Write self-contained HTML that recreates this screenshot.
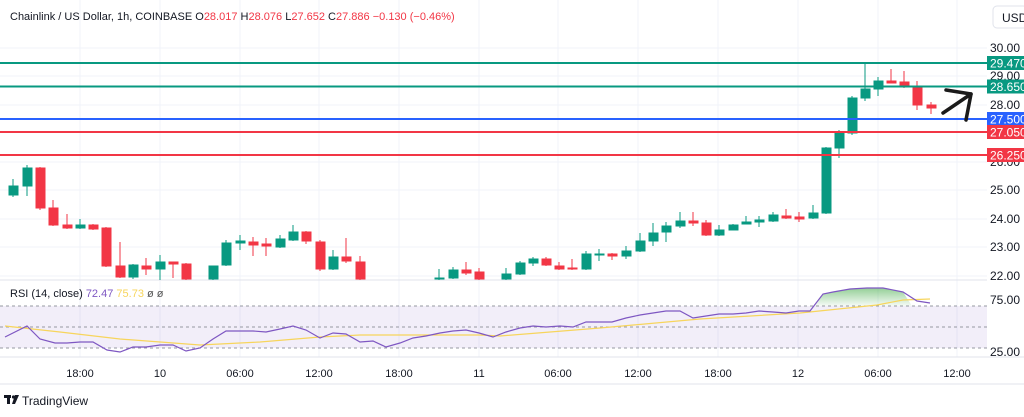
<!DOCTYPE html>
<html><head><meta charset="utf-8"><style>
body{margin:0;background:#fff;width:1024px;height:412px;overflow:hidden;font-family:"Liberation Sans","DejaVu Sans",sans-serif}
</style></head><body>
<svg width="1024" height="412" xmlns="http://www.w3.org/2000/svg" font-family="Liberation Sans, DejaVu Sans, sans-serif">
<rect width="1024" height="412" fill="#fff"/>
<g stroke="#f0f3fa" stroke-width="1">
<line x1="80" y1="0" x2="80" y2="357"/><line x1="160" y1="0" x2="160" y2="357"/><line x1="240" y1="0" x2="240" y2="357"/><line x1="319" y1="0" x2="319" y2="357"/><line x1="399" y1="0" x2="399" y2="357"/><line x1="479" y1="0" x2="479" y2="357"/><line x1="558" y1="0" x2="558" y2="357"/><line x1="638" y1="0" x2="638" y2="357"/><line x1="718" y1="0" x2="718" y2="357"/><line x1="798" y1="0" x2="798" y2="357"/><line x1="878" y1="0" x2="878" y2="357"/><line x1="957" y1="0" x2="957" y2="357"/>
<line x1="0" y1="48" x2="987" y2="48"/><line x1="0" y1="76" x2="987" y2="76"/><line x1="0" y1="105" x2="987" y2="105"/><line x1="0" y1="162" x2="987" y2="162"/><line x1="0" y1="190" x2="987" y2="190"/><line x1="0" y1="219" x2="987" y2="219"/><line x1="0" y1="247" x2="987" y2="247"/><line x1="0" y1="276" x2="987" y2="276"/>
</g>
<line x1="0" y1="280" x2="987" y2="280" stroke="#e0e3eb"/>
<line x1="0" y1="357" x2="1024" y2="357" stroke="#e0e3eb"/>
<line x1="0" y1="384" x2="1024" y2="384" stroke="#e0e3eb"/>
<text x="10" y="20" font-size="11" fill="#131722">Chainlink / US Dollar, 1h, COINBASE <tspan fill="#131722">O</tspan><tspan fill="#f23645">28.017</tspan> <tspan fill="#131722">H</tspan><tspan fill="#f23645">28.076</tspan> <tspan fill="#131722">L</tspan><tspan fill="#f23645">27.652</tspan> <tspan fill="#131722">C</tspan><tspan fill="#f23645">27.886</tspan> <tspan fill="#f23645">−0.130 (−0.46%)</tspan></text>
<rect x="993" y="6" width="34" height="22" rx="4" fill="#fff" stroke="#e0e3eb"/>
<text x="1002" y="22" font-size="12" fill="#131722">USD</text>
<clipPath id="c"><rect x="0" y="30" width="987" height="250"/></clipPath>
<g clip-path="url(#c)">
<g stroke-width="1">
<g fill="#089981" stroke="#089981">
<line x1="13" y1="179" x2="13" y2="197"/><rect x="9" y="186" width="9" height="9"/>
<line x1="27" y1="165" x2="27" y2="196"/><rect x="23" y="168" width="9" height="18"/>
<line x1="80" y1="219" x2="80" y2="229"/><rect x="76" y="225" width="9" height="3"/>
<line x1="133" y1="264" x2="133" y2="279"/><rect x="129" y="265" width="9" height="12"/>
<line x1="160" y1="255" x2="160" y2="280"/><rect x="156" y="262" width="9" height="7"/>
<line x1="213" y1="266" x2="213" y2="280"/><rect x="209" y="266" width="9" height="13"/>
<line x1="226" y1="240" x2="226" y2="266"/><rect x="222" y="243" width="9" height="22"/>
<line x1="240" y1="235" x2="240" y2="250"/><rect x="236" y="241" width="9" height="2"/>
<line x1="280" y1="235" x2="280" y2="248"/><rect x="276" y="239" width="9" height="8"/>
<line x1="293" y1="225" x2="293" y2="241"/><rect x="289" y="232" width="9" height="8"/>
<line x1="333" y1="250" x2="333" y2="270"/><rect x="329" y="257" width="9" height="12"/>
<line x1="439" y1="269" x2="439" y2="280"/><rect x="435" y="278" width="9" height="1"/>
<line x1="453" y1="267" x2="453" y2="279"/><rect x="449" y="270" width="9" height="8"/>
<line x1="506" y1="268" x2="506" y2="280"/><rect x="502" y="274" width="9" height="5"/>
<line x1="520" y1="261" x2="520" y2="275"/><rect x="516" y="263" width="9" height="11"/>
<line x1="533" y1="257" x2="533" y2="266"/><rect x="529" y="259" width="9" height="4"/>
<line x1="586" y1="251" x2="586" y2="270"/><rect x="582" y="254" width="9" height="15"/>
<line x1="599" y1="249" x2="599" y2="261"/><rect x="595" y="254" width="9" height="1"/>
<line x1="626" y1="246" x2="626" y2="259"/><rect x="622" y="251" width="9" height="5"/>
<line x1="640" y1="233" x2="640" y2="252"/><rect x="636" y="241" width="9" height="10"/>
<line x1="653" y1="223" x2="653" y2="246"/><rect x="649" y="233" width="9" height="8"/>
<line x1="666" y1="222" x2="666" y2="242"/><rect x="662" y="226" width="9" height="6"/>
<line x1="680" y1="212" x2="680" y2="228"/><rect x="676" y="221" width="9" height="5"/>
<line x1="719" y1="225" x2="719" y2="236"/><rect x="715" y="230" width="9" height="5"/>
<line x1="733" y1="224" x2="733" y2="230"/><rect x="729" y="225" width="9" height="5"/>
<line x1="746" y1="216" x2="746" y2="224"/><rect x="742" y="222" width="9" height="2"/>
<line x1="759" y1="216" x2="759" y2="227"/><rect x="755" y="220" width="9" height="2"/>
<line x1="773" y1="212" x2="773" y2="222"/><rect x="769" y="215" width="9" height="6"/>
<line x1="813" y1="205" x2="813" y2="219"/><rect x="809" y="213" width="9" height="5"/>
<line x1="826" y1="147" x2="826" y2="214"/><rect x="822" y="148" width="9" height="65"/>
<line x1="839" y1="130" x2="839" y2="158"/><rect x="835" y="133" width="9" height="15"/>
<line x1="852" y1="96" x2="852" y2="135"/><rect x="848" y="98" width="9" height="35"/>
<line x1="865" y1="64" x2="865" y2="101"/><rect x="861" y="89" width="9" height="9"/>
<line x1="878" y1="77" x2="878" y2="96"/><rect x="874" y="81" width="9" height="8"/>
</g>
<g fill="#f23645" stroke="#f23645">
<line x1="40" y1="167" x2="40" y2="210"/><rect x="36" y="168" width="9" height="40"/>
<line x1="53" y1="200" x2="53" y2="226"/><rect x="49" y="208" width="9" height="17"/>
<line x1="67" y1="214" x2="67" y2="229"/><rect x="63" y="225" width="9" height="3"/>
<line x1="93" y1="224" x2="93" y2="230"/><rect x="89" y="225" width="9" height="4"/>
<line x1="106" y1="227" x2="106" y2="267"/><rect x="102" y="228" width="9" height="38"/>
<line x1="120" y1="242" x2="120" y2="278"/><rect x="116" y="266" width="9" height="11"/>
<line x1="146" y1="258" x2="146" y2="275"/><rect x="142" y="266" width="9" height="3"/>
<line x1="173" y1="262" x2="173" y2="278"/><rect x="169" y="262" width="9" height="2"/>
<line x1="186" y1="263" x2="186" y2="280"/><rect x="182" y="264" width="9" height="15"/>
<line x1="253" y1="237" x2="253" y2="256"/><rect x="249" y="242" width="9" height="3"/>
<line x1="266" y1="238" x2="266" y2="256"/><rect x="262" y="244" width="9" height="2"/>
<line x1="306" y1="231" x2="306" y2="244"/><rect x="302" y="232" width="9" height="9"/>
<line x1="320" y1="240" x2="320" y2="271"/><rect x="316" y="242" width="9" height="27"/>
<line x1="346" y1="238" x2="346" y2="263"/><rect x="342" y="257" width="9" height="4"/>
<line x1="360" y1="256" x2="360" y2="280"/><rect x="356" y="262" width="9" height="17"/>
<line x1="466" y1="262" x2="466" y2="275"/><rect x="462" y="270" width="9" height="3"/>
<line x1="479" y1="268" x2="479" y2="280"/><rect x="475" y="272" width="9" height="7"/>
<line x1="546" y1="257" x2="546" y2="266"/><rect x="542" y="259" width="9" height="6"/>
<line x1="559" y1="262" x2="559" y2="270"/><rect x="555" y="266" width="9" height="3"/>
<line x1="572" y1="259" x2="572" y2="270"/><rect x="568" y="268" width="9" height="1"/>
<line x1="612" y1="253" x2="612" y2="260"/><rect x="608" y="254" width="9" height="2"/>
<line x1="693" y1="212" x2="693" y2="226"/><rect x="689" y="221" width="9" height="2"/>
<line x1="706" y1="220" x2="706" y2="236"/><rect x="702" y="223" width="9" height="12"/>
<line x1="786" y1="209" x2="786" y2="219"/><rect x="782" y="216" width="9" height="2"/>
<line x1="799" y1="212" x2="799" y2="222"/><rect x="795" y="217" width="9" height="2"/>
<line x1="891" y1="69" x2="891" y2="83"/><rect x="887" y="81" width="9" height="2"/>
<line x1="904" y1="71" x2="904" y2="88"/><rect x="900" y="82" width="9" height="5"/>
<line x1="917" y1="81" x2="917" y2="110"/><rect x="913" y="88" width="9" height="17"/>
<line x1="931" y1="102" x2="931" y2="114"/><rect x="927" y="105" width="9" height="3"/>
</g>
</g>
</g>
<line x1="0" y1="63" x2="987" y2="63" stroke="#089981" stroke-width="2"/>
<line x1="0" y1="86.5" x2="987" y2="86.5" stroke="#089981" stroke-width="2"/>
<line x1="0" y1="119" x2="987" y2="119" stroke="#2962ff" stroke-width="2"/>
<line x1="0" y1="132" x2="987" y2="132" stroke="#f23645" stroke-width="2"/>
<line x1="0" y1="155" x2="987" y2="155" stroke="#f23645" stroke-width="2"/>
<g stroke="#1a1a1a" stroke-width="3.5" fill="none" stroke-linecap="round" stroke-linejoin="round">
<line x1="943" y1="113" x2="971" y2="94"/>
<polyline points="946,90 971,94 966,120"/>
</g>
<g font-size="12" fill="#131722">
<text x="990" y="52">30.00</text>
<text x="990" y="80">29.00</text>
<text x="990" y="109">28.00</text>
<text x="990" y="166">26.00</text>
<text x="990" y="194">25.00</text>
<text x="990" y="223">24.00</text>
<text x="990" y="251">23.00</text>
<text x="990" y="280">22.00</text>
</g>
<rect x="987" y="56" width="37" height="14" fill="#089981"/>
<rect x="987" y="79.5" width="37" height="14" fill="#089981"/>
<rect x="987" y="112" width="37" height="14" fill="#2962ff"/>
<rect x="987" y="125" width="37" height="14" fill="#f23645"/>
<rect x="987" y="148" width="37" height="14" fill="#f23645"/>
<g font-size="12" fill="#fff">
<text x="990" y="67.5">29.470</text>
<text x="990" y="91">28.650</text>
<text x="990" y="123.5">27.500</text>
<text x="990" y="136.5">27.050</text>
<text x="990" y="159.5">26.250</text>
</g>
<text x="10" y="297" font-size="11" fill="#131722">RSI (14, close) <tspan fill="#7e57c2">72.47</tspan> <tspan fill="#f7d55c">75.73</tspan> <tspan fill="#555">ø ø</tspan></text>
<rect x="0" y="306" width="987" height="42" fill="#7e57c2" fill-opacity="0.1"/>
<g stroke="#9598a1" stroke-dasharray="3,3" stroke-width="1">
<line x1="0" y1="306" x2="987" y2="306"/><line x1="0" y1="327" x2="987" y2="327"/><line x1="0" y1="348" x2="987" y2="348"/>
</g>
<defs><linearGradient id="g" x1="0" y1="0" x2="0" y2="1"><stop offset="0" stop-color="#4caf50" stop-opacity="0.6"/><stop offset="1" stop-color="#4caf50" stop-opacity="0.05"/></linearGradient></defs>
<polygon points="815,306 823,294 833,292 850,289 867,288 883,288 903,292 912,306" fill="url(#g)"/>
<polyline fill="none" stroke="#f7d55c" stroke-width="1.2" points="5,326 60,332 120,339 200,345 260,342 320,337 360,335 480,335 500,336 600,328 700,319 800,313 877,305 903,300 930,299"/>
<polyline fill="none" stroke="#7e57c2" stroke-width="1.2" points="5,337 27,326 40,339 55,343 67,343 80,342 93,342 107,350 120,352 133,347 146,347 160,345 173,345 186,351 200,348 213,339 226,331 240,331 253,331 266,332 280,329 293,326 306,330 320,338 333,333 346,334 360,342 373,341 386,347 400,343 413,338 426,336 440,333 453,331 466,330 479,333 493,337 506,332 520,328 533,326 546,327 560,326 573,327 586,322 599,322 612,322 626,318 640,315 653,313 666,311 680,311 693,318 706,316 719,314 733,314 746,313 759,311 773,312 786,313 799,311 810,311 823,294 833,292 850,289 867,288 883,288 903,292 917,301 930,303"/>
<g font-size="12" fill="#131722">
<text x="990" y="304">75.00</text>
<text x="990" y="356">25.00</text>
</g>
<g font-size="11" fill="#131722" text-anchor="middle">
<text x="80" y="377">18:00</text><text x="160" y="377">10</text><text x="240" y="377">06:00</text><text x="319" y="377">12:00</text><text x="399" y="377">18:00</text><text x="479" y="377">11</text><text x="558" y="377">06:00</text><text x="638" y="377">12:00</text><text x="718" y="377">18:00</text><text x="798" y="377">12</text><text x="878" y="377">06:00</text><text x="957" y="377">12:00</text>
</g>
<g fill="#131722">
<rect x="4" y="395" width="7" height="3"/><rect x="7" y="395" width="3" height="9"/>
<circle cx="13.5" cy="397" r="1.6"/><polygon points="15,395 19,395 15,404 12,404"/>
</g>
<text x="22" y="405" font-size="12" fill="#131722">TradingView</text>
</svg>
</body></html>
